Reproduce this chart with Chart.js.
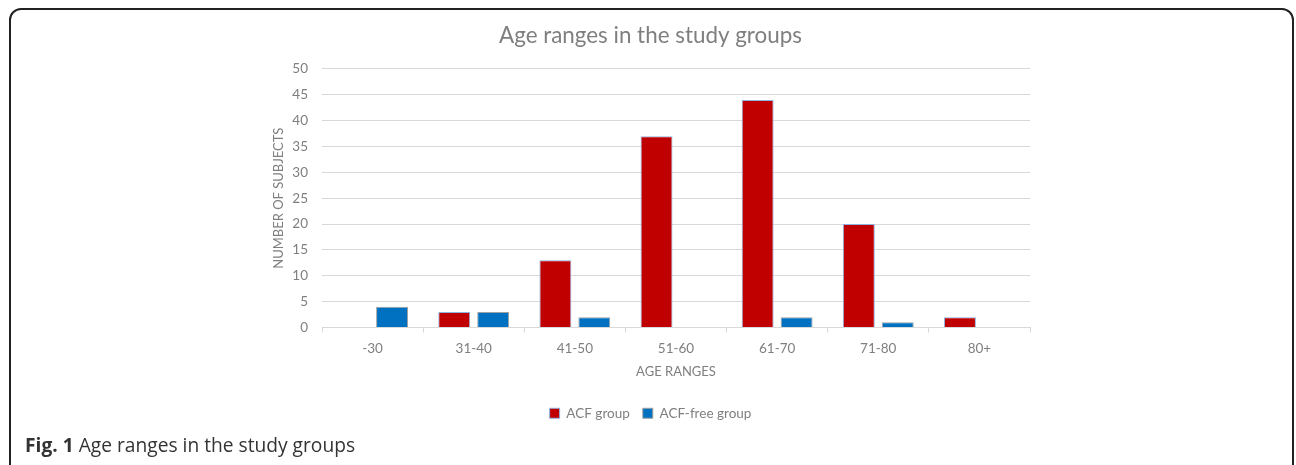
<!DOCTYPE html>
<html>
<head>
<meta charset="utf-8">
<script src="https://cdn.jsdelivr.net/npm/chart.js@4.4.1/dist/chart.umd.min.js"></script>
<style>
  html, body { margin: 0; padding: 0; background: #fff; overflow: hidden; }
  body { width: 1296px; height: 465px; position: relative; }
  #frame {
    position: absolute; left: 9px; top: 8px; width: 1285px; height: 480px;
    border: 2px solid #222; border-radius: 12px; box-sizing: border-box;
  }
  #wrap { position: absolute; left: 0; top: 0; width: 1296px; height: 440px; }
  #caption {
    position: absolute; left: 25px; top: 431px;
    font-family: "Open Sans", sans-serif; font-size: 19.2px; color: #333;
    white-space: nowrap;
  }
  #caption b { font-weight: 700; }
</style>
</head>
<body>
<div id="frame"></div>
<div id="wrap"><canvas id="c" width="1296" height="440"></canvas></div>
<div id="caption"><b>Fig. 1</b> Age ranges in the study groups</div>
<script>
// Age range categories and subject counts per group
const ageRanges = ["-30", "31-40", "41-50", "51-60", "61-70", "71-80", "80+"];
const acfGroup = [0, 3, 13, 37, 44, 20, 2];
const acfFreeGroup = [4, 3, 2, 0, 2, 1, 0];
const yTicks = [0, 5, 10, 15, 20, 25, 30, 35, 40, 45, 50];

const FONT = "Lato, 'Open Sans', sans-serif";
const GREY = "#7f7f7f";
const GRID = "#d9d9d9";

new Chart(document.getElementById("c"), {
  type: "bar",
  data: {
    labels: ageRanges,
    datasets: [
      {
        label: "ACF group",
        data: acfGroup,
        backgroundColor: "#c00000",
        borderColor: "#8db3e2",
        borderWidth: 1,
        categoryPercentage: 0.77,
        barPercentage: 0.82
      },
      {
        label: "ACF-free group",
        data: acfFreeGroup,
        backgroundColor: "#0070c0",
        borderColor: "#a0a0a0",
        borderWidth: 1,
        categoryPercentage: 0.77,
        barPercentage: 0.82
      }
    ]
  },
  options: {
    responsive: false,
    animation: false,
    layout: { padding: { left: 271, right: 266, top: 10, bottom: 10 } },
    plugins: {
      tooltip: { enabled: false },
      title: {
        display: true,
        text: "Age ranges in the study groups",
        color: GREY,
        font: { family: FONT, size: 22.4, weight: "normal" },
        padding: { top: 12, bottom: 20.1 }
      },
      legend: {
        position: "bottom",
        labels: {
          color: GREY,
          font: { family: FONT, size: 13.5 },
          boxWidth: 10,
          boxHeight: 10,
          padding: 13
        }
      }
    },
    scales: {
      x: {
        grid: {
          offset: true,
          drawOnChartArea: false,
          drawTicks: true,
          tickLength: 5,
          color: GRID
        },
        border: { display: true, color: GRID },
        ticks: { color: GREY, font: { family: FONT, size: 13.5 }, padding: 8 },
        title: {
          display: true,
          text: "AGE RANGES",
          color: GREY,
          font: { family: FONT, size: 13 },
          padding: { top: 5, bottom: 14 }
        },
        afterFit: (s) => { s.height = 66; }
      },
      y: {
        min: 0,
        max: 50,
        afterBuildTicks: (s) => { s.ticks = yTicks.map(v => ({ value: v })); },
        grid: { drawTicks: false, color: GRID },
        border: { display: false },
        ticks: { color: GREY, font: { family: FONT, size: 13.5 }, padding: 14 },
        title: {
          display: true,
          text: "NUMBER OF SUBJECTS",
          color: GREY,
          font: { family: FONT, size: 13 },
          padding: 0
        },
        afterFit: (s) => { s.width = 51; }
      }
    }
  }
});
</script>
</body>
</html>
